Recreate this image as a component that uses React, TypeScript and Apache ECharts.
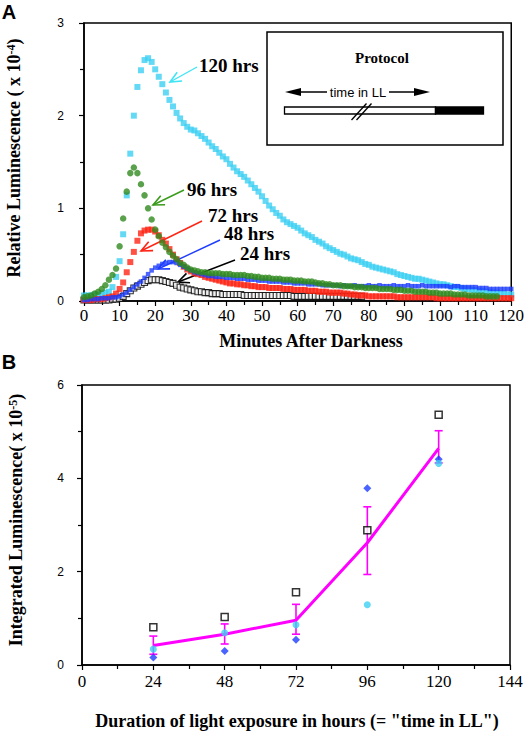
import React, { useEffect, useRef } from "react";
import * as echarts from "echarts";

// ---------- Panel A: luminescence (x 10^-4) sampled each minute after darkness ----------
const LUM_120H = [
  0.06, 0.06, 0.06, 0.07, 0.07, 0.08, 0.09, 0.10, 0.15, 0.26,
  0.43, 0.72, 1.14, 1.59, 2.00, 2.31, 2.49, 2.60, 2.62, 2.58,
  2.50, 2.42, 2.34, 2.25, 2.17, 2.10, 2.03, 1.97, 1.92, 1.88,
  1.85, 1.84, 1.81, 1.78, 1.75, 1.71, 1.67, 1.64, 1.60, 1.56,
  1.53, 1.48, 1.44, 1.40, 1.37, 1.34, 1.30, 1.26, 1.22, 1.18,
  1.13, 1.08, 1.03, 0.99, 0.95, 0.92, 0.88, 0.85, 0.83, 0.81,
  0.79, 0.76, 0.73, 0.71, 0.69, 0.66, 0.64, 0.62, 0.59, 0.57,
  0.55, 0.53, 0.51, 0.50, 0.48, 0.46, 0.45, 0.44, 0.42, 0.40,
  0.39, 0.37, 0.36, 0.35, 0.34, 0.33, 0.32, 0.31, 0.29, 0.28,
  0.27, 0.26, 0.25, 0.24, 0.24, 0.23, 0.22, 0.21, 0.20, 0.19,
  0.18, 0.18, 0.17, 0.16, 0.15, 0.15, 0.14, 0.13, 0.13, 0.12,
  0.12, 0.11, 0.11, 0.10, 0.10, 0.09, 0.09, 0.08, 0.08, 0.07, 0.07,
];
const LUM_96H = [
  0.04, 0.05, 0.06, 0.08, 0.10, 0.13, 0.17, 0.23, 0.28, 0.35,
  0.59, 0.89, 1.18, 1.38, 1.44, 1.38, 1.26, 1.14, 1.00, 0.88,
  0.77, 0.70, 0.63, 0.58, 0.53, 0.49, 0.45, 0.41, 0.39, 0.36,
  0.34, 0.33, 0.32, 0.31, 0.31, 0.30, 0.30, 0.30, 0.30, 0.29,
  0.29, 0.29, 0.28, 0.28, 0.28, 0.28, 0.27, 0.27, 0.26, 0.26,
  0.25, 0.25, 0.25, 0.24, 0.24, 0.24, 0.23, 0.23, 0.23, 0.22,
  0.22, 0.22, 0.21, 0.21, 0.21, 0.20, 0.19, 0.19, 0.18, 0.18,
  0.17, 0.17, 0.17, 0.16, 0.16, 0.16, 0.15, 0.15, 0.15, 0.14,
  0.14, 0.14, 0.14, 0.13, 0.13, 0.13, 0.13, 0.12, 0.12, 0.12,
  0.11, 0.11, 0.11, 0.10, 0.10, 0.10, 0.10, 0.09, 0.09, 0.09,
  0.08, 0.08, 0.08, 0.08, 0.07, 0.07, 0.07, 0.07, 0.06, 0.06,
  0.06, 0.06, 0.06, 0.05, 0.05, 0.05, 0.05,
];
const LUM_72H = [
  0.01, 0.01, 0.01, 0.02, 0.02, 0.02, 0.03, 0.04, 0.05, 0.08,
  0.13, 0.20, 0.31, 0.42, 0.53, 0.65, 0.73, 0.76, 0.77, 0.77,
  0.75, 0.71, 0.66, 0.62, 0.56, 0.50, 0.45, 0.41, 0.37, 0.34,
  0.32, 0.30, 0.29, 0.28, 0.26, 0.25, 0.24, 0.23, 0.22, 0.21,
  0.20, 0.19, 0.19, 0.18, 0.18, 0.17, 0.17, 0.16, 0.16, 0.15,
  0.15, 0.15, 0.14, 0.14, 0.14, 0.14, 0.13, 0.13, 0.13, 0.12,
  0.12, 0.12, 0.12, 0.11, 0.11, 0.11, 0.10, 0.10, 0.10, 0.09,
  0.09, 0.09, 0.09, 0.08, 0.08, 0.07, 0.07, 0.06, 0.06, 0.06,
  0.05, 0.05, 0.05, 0.05, 0.05, 0.05, 0.05, 0.05, 0.04, 0.04,
  0.04, 0.04, 0.04, 0.04, 0.04, 0.04, 0.04, 0.04, 0.04, 0.03,
  0.03, 0.03, 0.03, 0.03, 0.03, 0.03, 0.03, 0.03, 0.03, 0.03,
  0.03, 0.03, 0.03, 0.03, 0.03, 0.03, 0.03, 0.03, 0.03, 0.03, 0.03,
];
const LUM_48H = [
  0.01, 0.01, 0.02, 0.02, 0.02, 0.03, 0.03, 0.03, 0.04, 0.04,
  0.05, 0.07, 0.09, 0.12, 0.15, 0.18, 0.21, 0.25, 0.29, 0.33,
  0.36, 0.38, 0.40, 0.41, 0.42, 0.42, 0.41, 0.39, 0.37, 0.35,
  0.33, 0.31, 0.30, 0.29, 0.28, 0.27, 0.27, 0.26, 0.26, 0.26,
  0.25, 0.25, 0.25, 0.24, 0.24, 0.24, 0.23, 0.23, 0.23, 0.22,
  0.22, 0.22, 0.21, 0.21, 0.21, 0.21, 0.20, 0.20, 0.20, 0.19,
  0.19, 0.19, 0.19, 0.18, 0.18, 0.18, 0.18, 0.17, 0.17, 0.17,
  0.17, 0.17, 0.16, 0.17, 0.16, 0.16, 0.17, 0.16, 0.16, 0.16,
  0.17, 0.16, 0.16, 0.17, 0.16, 0.16, 0.16, 0.17, 0.16, 0.16,
  0.16, 0.17, 0.16, 0.16, 0.16, 0.17, 0.16, 0.16, 0.16, 0.16,
  0.16, 0.16, 0.16, 0.15, 0.16, 0.16, 0.15, 0.15, 0.15, 0.15,
  0.15, 0.14, 0.14, 0.14, 0.13, 0.13, 0.13, 0.13, 0.13, 0.13, 0.13,
];
const LUM_24H = [
  0.01, 0.01, 0.01, 0.01, 0.01, 0.01, 0.01, 0.01, 0.02, 0.02,
  0.03, 0.05, 0.08, 0.11, 0.14, 0.16, 0.18, 0.20, 0.22, 0.23,
  0.23, 0.23, 0.22, 0.21, 0.20, 0.19, 0.17, 0.15, 0.14, 0.13,
  0.12, 0.11, 0.10, 0.10, 0.09, 0.09, 0.08, 0.08, 0.08, 0.07,
  0.07, 0.07, 0.07, 0.07, 0.07, 0.06, 0.06, 0.06, 0.06, 0.06,
  0.06, 0.06, 0.06, 0.06, 0.06, 0.06, 0.06, 0.06, 0.06, 0.05,
  0.05, 0.05, 0.05, 0.05, 0.05, 0.05, 0.05, 0.05, 0.05, 0.05,
  0.05, 0.05, 0.05, 0.05, 0.05, 0.05, 0.05, 0.05, 0.05,
];

// ---------- Panel B: integrated luminescence (x 10^-5) ----------
const HOURS = [24, 48, 72, 96, 120];
const INT_EXP1 = [0.81, 1.03, 1.56, 2.89, 5.36]; // open squares
const INT_EXP2 = [0.16, 0.3, 0.54, 3.79, 4.41]; // blue diamonds
const INT_EXP3 = [0.34, 0.69, 0.86, 1.29, 4.32]; // cyan circles
const INT_MEAN = [0.42, 0.66, 0.96, 2.62, 4.64];
const INT_LOW = [0.23, 0.45, 0.66, 1.94, 4.33];
const INT_HIGH = [0.62, 0.88, 1.3, 3.39, 5.02];

const SERIF = '"Liberation Serif", "Times New Roman", serif';
const SANS = '"Liberation Sans", Arial, sans-serif';

const C_CYAN = "#3ccff2";
const C_GREEN = "#2f8a1e";
const C_RED = "#ff2414";
const C_BLUE = "#1e3cff";
const C_MAGENTA = "#ff00ff";

const perMinute = (vals: number[]) => vals.map((v, i) => [i, v]);

function txt(x: number, y: number, text: string, font: string, align = "left", extra: any = {}) {
  return {
    type: "text",
    x,
    y,
    ...extra,
    style: {
      text,
      font,
      fill: "#000",
      align,
      verticalAlign: "middle",
      textAlign: align,
      textVerticalAlign: "middle",
      ...(extra.style || {}),
    },
  };
}

function arrow(x1: number, y1: number, x2: number, y2: number, color: string) {
  const dx = x2 - x1;
  const dy = y2 - y1;
  const len = Math.sqrt(dx * dx + dy * dy);
  const ux = dx / len;
  const uy = dy / len;
  const L = 11;
  const W = 5;
  const bx = x2 - ux * L;
  const by = y2 - uy * L;
  return [
    { type: "line", shape: { x1, y1, x2, y2 }, style: { stroke: color, lineWidth: 1.4 } },
    {
      type: "polyline",
      shape: {
        points: [
          [bx - uy * W, by + ux * W],
          [x2, y2],
          [bx + uy * W, by - ux * W],
        ],
      },
      style: { stroke: color, lineWidth: 1.6, fill: null },
    },
  ];
}

function buildOption() {
  const axisLine = { show: true, lineStyle: { color: "#000", width: 1.5 } };
  const axisTick = { show: true, length: 5, lineStyle: { color: "#000", width: 1.2 } };
  const minorTick = { show: true, splitNumber: 2, length: 4, lineStyle: { color: "#000", width: 1.2 } };

  const titleFont = `bold 18px ${SERIF}`;
  const graphic: any[] = [
    txt(9, 12, "A", `bold 20px ${SANS}`, "center"),
    txt(9, 362, "B", `bold 20px ${SANS}`, "center"),
    txt(311, 341, "Minutes After Darkness", titleFont, "center"),
    txt(297, 721, 'Duration of light exposure in hours (= "time in LL")', titleFont, "center"),
    {
      type: "text",
      x: 14,
      y: 158,
      rotation: Math.PI / 2,
      style: {
        text: "{a|Relative Luminescence ( x 10}{s|-4}{a|)}",
        rich: {
          a: { font: titleFont, fill: "#000" },
          s: { font: `bold 12px ${SERIF}`, fill: "#000", verticalAlign: "top" },
        },
        align: "center",
        verticalAlign: "middle",
        textAlign: "center",
        textVerticalAlign: "middle",
      },
    },
    {
      type: "text",
      x: 16,
      y: 520,
      rotation: Math.PI / 2,
      style: {
        text: "{a|Integrated Luminescence( x 10}{s|-5}{a|)}",
        rich: {
          a: { font: titleFont, fill: "#000" },
          s: { font: `bold 12px ${SERIF}`, fill: "#000", verticalAlign: "top" },
        },
        align: "center",
        verticalAlign: "middle",
        textAlign: "center",
        textVerticalAlign: "middle",
      },
    },
    // annotations
    txt(199, 65, "120 hrs", `bold 19px ${SERIF}`),
    txt(187, 189, "96 hrs", `bold 19px ${SERIF}`),
    txt(208, 215, "72 hrs", `bold 19px ${SERIF}`),
    txt(224, 233, "48 hrs", `bold 19px ${SERIF}`),
    txt(240, 253, "24 hrs", `bold 19px ${SERIF}`),
    ...arrow(197, 67, 170, 82, "#40e4f4"),
    ...arrow(184, 190, 153, 205, "#3a9a1a"),
    ...arrow(202, 221, 141, 251, C_RED),
    ...arrow(220, 240, 158, 269, C_BLUE),
    ...arrow(235, 260, 178, 282, "#000"),
    // protocol inset
    {
      type: "rect",
      shape: { x: 267, y: 32, width: 236, height: 113 },
      style: { fill: "#fff", stroke: "#000", lineWidth: 1.5 },
    },
    txt(382, 58, "Protocol", `bold 15px ${SERIF}`, "center"),
    {
      type: "polygon",
      shape: { points: [[285, 92], [301, 88], [301, 96]] },
      style: { fill: "#000" },
    },
    { type: "line", shape: { x1: 300, y1: 92, x2: 327, y2: 92 }, style: { stroke: "#000", lineWidth: 1.5 } },
    txt(358, 92, "time in LL", `13px ${SANS}`, "center"),
    { type: "line", shape: { x1: 389, y1: 92, x2: 415, y2: 92 }, style: { stroke: "#000", lineWidth: 1.5 } },
    {
      type: "polygon",
      shape: { points: [[414, 88], [414, 96], [430, 92]] },
      style: { fill: "#000" },
    },
    {
      type: "rect",
      shape: { x: 284.5, y: 107, width: 151, height: 7 },
      style: { fill: "#fff", stroke: "#000", lineWidth: 1.3 },
    },
    {
      type: "rect",
      shape: { x: 435.5, y: 107, width: 48, height: 7 },
      style: { fill: "#000", stroke: "#000", lineWidth: 1.3 },
    },
    { type: "line", shape: { x1: 351.5, y1: 120, x2: 366.5, y2: 103.5 }, style: { stroke: "#000", lineWidth: 1.3 } },
    { type: "line", shape: { x1: 356.5, y1: 120, x2: 371.5, y2: 103.5 }, style: { stroke: "#000", lineWidth: 1.3 } },
  ];

  const xLabel = (margin: number) => ({
    color: "#000",
    fontFamily: SERIF,
    fontSize: 17,
    margin,
  });
  const yLabel = (margin: number) => ({
    color: "#000",
    fontFamily: SANS,
    fontSize: 12,
    margin,
  });

  return {
    animation: false,
    backgroundColor: "#fff",
    grid: [
      { left: 84, right: 12, top: 23, height: 278, show: true, borderColor: "#000", borderWidth: 1.5 },
      { left: 82, right: 17, top: 385, height: 280, show: true, borderColor: "#000", borderWidth: 1.5 },
    ],
    xAxis: [
      {
        type: "value",
        gridIndex: 0,
        min: 0,
        max: 120,
        interval: 10,
        axisLine,
        axisTick,
        minorTick,
        splitLine: { show: false },
        axisLabel: xLabel(6),
      },
      {
        type: "value",
        gridIndex: 1,
        min: 0,
        max: 144,
        interval: 24,
        axisLine,
        axisTick,
        minorTick,
        splitLine: { show: false },
        axisLabel: xLabel(8),
      },
    ],
    yAxis: [
      {
        type: "value",
        gridIndex: 0,
        min: 0,
        max: 3,
        interval: 1,
        axisLine,
        axisTick,
        minorTick,
        splitLine: { show: false },
        axisLabel: yLabel(20),
      },
      {
        type: "value",
        gridIndex: 1,
        min: 0,
        max: 6,
        interval: 2,
        axisLine,
        axisTick,
        minorTick,
        splitLine: { show: false },
        axisLabel: yLabel(18),
      },
    ],
    graphic,
    series: [
      {
        name: "24 hrs",
        type: "scatter",
        xAxisIndex: 0,
        yAxisIndex: 0,
        data: perMinute(LUM_24H),
        symbol: "rect",
        symbolSize: 6,
        itemStyle: { color: "#fff", borderColor: "#000", borderWidth: 1.1 },
        silent: true,
      },
      {
        name: "120 hrs",
        type: "scatter",
        xAxisIndex: 0,
        yAxisIndex: 0,
        data: perMinute(LUM_120H),
        symbol: "rect",
        symbolSize: 6,
        itemStyle: { color: C_CYAN },
        silent: true,
      },
      {
        name: "72 hrs",
        type: "scatter",
        xAxisIndex: 0,
        yAxisIndex: 0,
        data: perMinute(LUM_72H),
        symbol: "rect",
        symbolSize: 6,
        itemStyle: { color: C_RED },
        silent: true,
      },
      {
        name: "48 hrs",
        type: "scatter",
        xAxisIndex: 0,
        yAxisIndex: 0,
        data: perMinute(LUM_48H),
        symbol: "rect",
        symbolSize: 4.5,
        itemStyle: { color: C_BLUE },
        silent: true,
      },
      {
        name: "96 hrs",
        type: "scatter",
        xAxisIndex: 0,
        yAxisIndex: 0,
        data: perMinute(LUM_96H),
        symbol: "circle",
        symbolSize: 6.5,
        itemStyle: { color: C_GREEN },
        silent: true,
      },
      {
        name: "mean",
        type: "line",
        xAxisIndex: 1,
        yAxisIndex: 1,
        data: HOURS.map((h, i) => [h, INT_MEAN[i]]),
        symbol: "none",
        lineStyle: { color: C_MAGENTA, width: 3 },
        silent: true,
        z: 3,
      },
      {
        name: "sem",
        type: "custom",
        xAxisIndex: 1,
        yAxisIndex: 1,
        data: HOURS.map((h, i) => [h, INT_LOW[i], INT_HIGH[i]]),
        encode: { x: 0, y: [1, 2] },
        silent: true,
        z: 3,
        renderItem: (_params: any, api: any) => {
          const x = api.value(0);
          const top = api.coord([x, api.value(2)]);
          const bot = api.coord([x, api.value(1)]);
          const c = 4;
          const st = { stroke: C_MAGENTA, lineWidth: 1.6 };
          return {
            type: "group",
            children: [
              { type: "line", shape: { x1: top[0], y1: top[1], x2: bot[0], y2: bot[1] }, style: st },
              { type: "line", shape: { x1: top[0] - c, y1: top[1], x2: top[0] + c, y2: top[1] }, style: st },
              { type: "line", shape: { x1: bot[0] - c, y1: bot[1], x2: bot[0] + c, y2: bot[1] }, style: st },
            ],
          };
        },
      },
      {
        name: "exp 1",
        type: "scatter",
        xAxisIndex: 1,
        yAxisIndex: 1,
        data: HOURS.map((h, i) => [h, INT_EXP1[i]]),
        symbol: "rect",
        symbolSize: 7,
        itemStyle: { color: "#fff", borderColor: "#000", borderWidth: 1.5 },
        silent: true,
        z: 4,
      },
      {
        name: "exp 2",
        type: "scatter",
        xAxisIndex: 1,
        yAxisIndex: 1,
        data: HOURS.map((h, i) => [h, INT_EXP2[i]]),
        symbol: "diamond",
        symbolSize: 8,
        itemStyle: { color: C_BLUE },
        silent: true,
        z: 4,
      },
      {
        name: "exp 3",
        type: "scatter",
        xAxisIndex: 1,
        yAxisIndex: 1,
        data: HOURS.map((h, i) => [h, INT_EXP3[i]]),
        symbol: "circle",
        symbolSize: 7,
        itemStyle: { color: C_CYAN },
        silent: true,
        z: 4,
      },
    ],
  };
}

export default function App() {
  const ref = useRef<HTMLDivElement>(null);
  useEffect(() => {
    if (!ref.current) return;
    const chart = echarts.init(ref.current, undefined, { renderer: "svg" });
    chart.setOption(buildOption() as any);
    return () => chart.dispose();
  }, []);
  return (
    <div
      ref={ref}
      style={{ position: "absolute", left: 0, top: 0, width: 527, height: 732, background: "#fff" }}
    />
  );
}
